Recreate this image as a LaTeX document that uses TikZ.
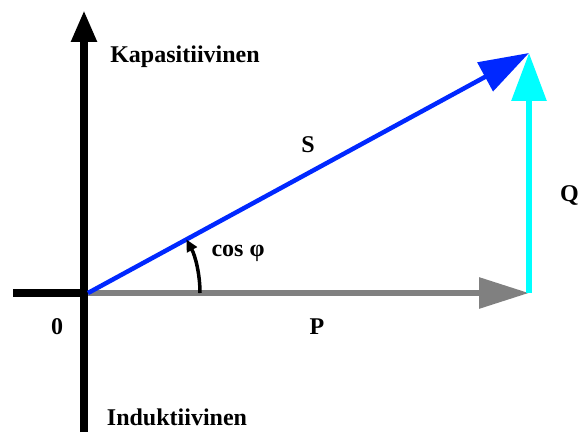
\documentclass[tikz,border=0pt]{standalone}
\usepackage{fontspec}
\setmainfont{Liberation Serif}
\usetikzlibrary{arrows.meta}

\definecolor{pblue}{RGB}{0,40,255}
\definecolor{qcyan}{RGB}{0,255,255}
\definecolor{pgray}{RGB}{128,128,128}

\tikzset{
  axisline/.style={line width=8pt, black},
  phasor/.style={line width=6pt},
  lbl/.style={font=\fontsize{24}{28}\selectfont\bfseries, inner sep=0pt}
}

\begin{document}
\begin{tikzpicture}[x=1pt, y=1pt]
    \useasboundingbox (0,0) rectangle (578,432);

    % Origin and phasor end points
    \coordinate (O) at (88,139);
    \coordinate (Pend) at (529,139);
    \coordinate (Qend) at (529,379);
    \coordinate (Atop) at (84,422);
    \coordinate (Abot) at (84,0);
    \coordinate (Aleft) at (13,139);
    \coordinate (Arcst) at (200,139);

    % Axes
    \draw[axisline, -{Triangle[length=32pt, width=24pt]}] (Abot) -- (Atop);
    \draw[axisline] (Aleft) -- (O);

    % P, Q and S
    \draw[phasor, pgray, -{Triangle[length=50pt, width=30pt]}] (O) -- (Pend);
    \draw[phasor, qcyan, -{Triangle[length=48pt, width=34pt]}] (Pend) -- (Qend);
    \draw[line width=4.5pt, pblue, -{Triangle[length=50pt, width=32pt]}] (O) -- (Qend);

    % Angle
    \draw[line width=3.5pt, -{Triangle[length=12pt, width=11pt]}] (Arcst) arc[start angle=0, end angle=28.6, radius=112];

    % Labels
    \node[lbl] (kap) at (185,375) {Kapasitiivinen};
    \node[lbl] (ind) at (177,15) {Induktiivinen};
    \node[lbl] (zero) at (57,105) {0};
    \node[lbl] (plbl) at (317,105) {P};
    \node[lbl] (slbl) at (308,287) {S};
    \node[lbl, anchor=west] (qlbl) at (560,237) {Q};
    \node[lbl] (cosphi) at (238,179) {cos φ};
\end{tikzpicture}
\end{document}
